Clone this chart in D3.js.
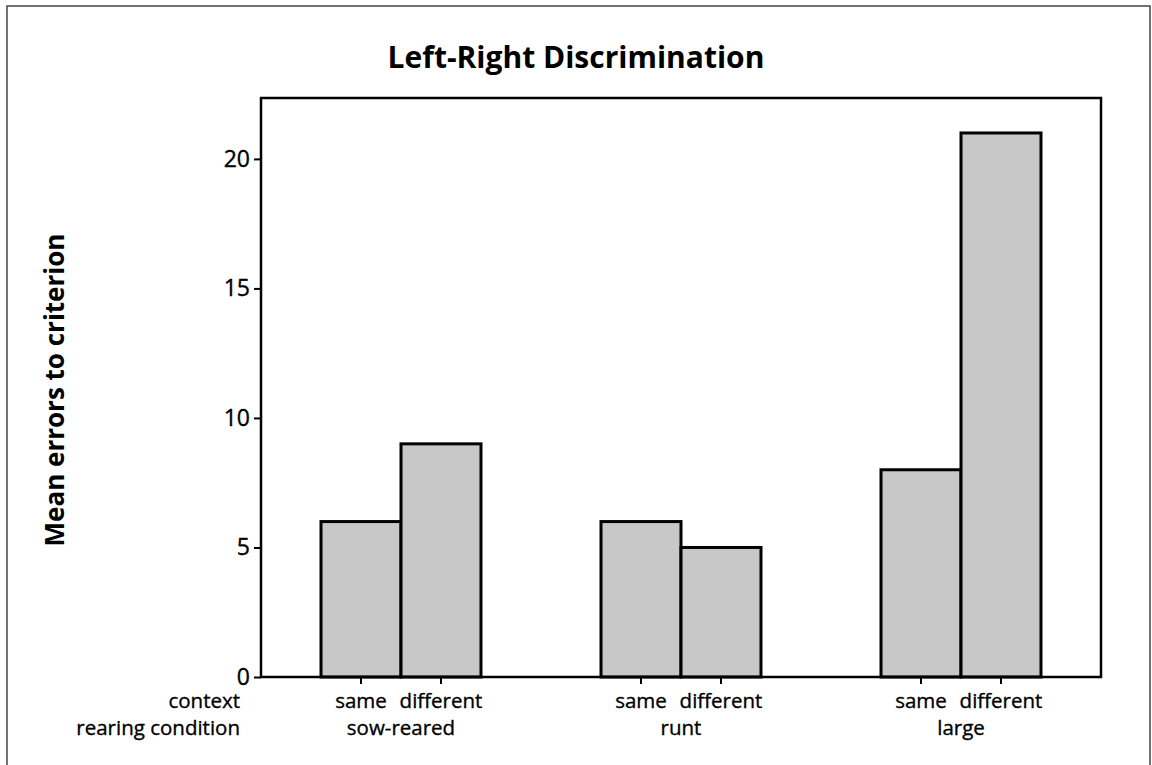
<!DOCTYPE html>
<html>
<head>
<meta charset="utf-8">
<script src="https://cdn.jsdelivr.net/npm/d3@7"></script>
<style>
  body { margin: 0; background: #fff; }
  text { font-family: "Open Sans", "DejaVu Sans", sans-serif; fill: #000; }
  .reg { stroke: #000; stroke-width: 0.35px; }
</style>
</head>
<body>
<div id="chart"></div>
<script>
// --- Data ---
const rearing = ["sow-reared", "runt", "large"];
const contexts = ["same", "different"];
const meanErrors = [
  [6, 9],   // sow-reared
  [6, 5],   // runt
  [8, 21]   // large
];
const yTicks = [0, 5, 10, 15, 20];

// --- SVG Setup ---
const width = 1152;
const height = 765;
const plot = { left: 261, top: 98, right: 1101, bottom: 677 };

const svg = d3.select("#chart")
  .append("svg")
  .attr("width", width)
  .attr("height", height);

// outer frame (cropped at bottom in the original)
svg.append("rect")
  .attr("x", 7).attr("y", 6)
  .attr("width", 1143).attr("height", 780)
  .attr("fill", "none")
  .attr("stroke", "#444")
  .attr("stroke-width", 1.5);

// --- Scales ---
const x0 = d3.scaleBand()
  .domain(rearing)
  .range([plot.left, plot.right])
  .paddingInner(0.4286)
  .paddingOuter(0.2143);

const x1 = d3.scaleBand()
  .domain(contexts)
  .range([0, x0.bandwidth()]);

const y = d3.scaleLinear()
  .domain([0, 22.35])
  .range([plot.bottom, plot.top]);

// --- Bars ---
const groups = svg.selectAll(".group")
  .data(rearing)
  .enter()
  .append("g")
  .attr("class", "group")
  .attr("transform", d => `translate(${x0(d)},0)`);

groups.selectAll("rect")
  .data((d, i) => contexts.map((c, j) => ({ context: c, value: meanErrors[i][j] })))
  .enter()
  .append("rect")
  .attr("x", d => x1(d.context))
  .attr("y", d => y(d.value))
  .attr("width", x1.bandwidth())
  .attr("height", d => y(0) - y(d.value))
  .attr("fill", "#c8c8c8")
  .attr("stroke", "#000")
  .attr("stroke-width", 3);

// --- Plot frame ---
svg.append("rect")
  .attr("x", plot.left).attr("y", plot.top)
  .attr("width", plot.right - plot.left)
  .attr("height", plot.bottom - plot.top)
  .attr("fill", "none")
  .attr("stroke", "#000")
  .attr("stroke-width", 2.5);

// --- Y axis ---
const yAxis = svg.append("g")
  .attr("transform", `translate(${plot.left},0)`)
  .call(d3.axisLeft(y).tickValues(yTicks).tickSize(7).tickPadding(4));
yAxis.select(".domain").remove();
yAxis.selectAll("line").attr("stroke", "#000").attr("stroke-width", 2);
yAxis.selectAll("text")
  .attr("class", "reg")
  .attr("font-size", "23px")
  .attr("font-family", "'Open Sans', sans-serif")
  .attr("fill", "#000");

// --- X axis ticks (at bar centers) ---
const xTicks = [];
rearing.forEach(r => contexts.forEach(c => {
  xTicks.push({ r, c, x: x0(r) + x1(c) + x1.bandwidth() / 2 });
}));

svg.selectAll(".xtick")
  .data(xTicks)
  .enter()
  .append("line")
  .attr("x1", d => d.x).attr("x2", d => d.x)
  .attr("y1", plot.bottom).attr("y2", plot.bottom + 7)
  .attr("stroke", "#000")
  .attr("stroke-width", 2);

svg.selectAll(".ctxlabel")
  .data(xTicks)
  .enter()
  .append("text")
  .attr("class", "reg")
  .attr("x", d => d.x)
  .attr("y", 708)
  .attr("text-anchor", "middle")
  .attr("font-size", "20.5px")
  .text(d => d.c);

svg.selectAll(".rearlabel")
  .data(rearing)
  .enter()
  .append("text")
  .attr("class", "reg")
  .attr("x", d => x0(d) + x0.bandwidth() / 2)
  .attr("y", 735)
  .attr("text-anchor", "middle")
  .attr("font-size", "20.5px")
  .text(d => d);

svg.append("text")
  .attr("class", "reg")
  .attr("x", 240).attr("y", 708)
  .attr("text-anchor", "end")
  .attr("font-size", "20.5px")
  .text("context");

svg.append("text")
  .attr("class", "reg")
  .attr("x", 240).attr("y", 735)
  .attr("text-anchor", "end")
  .attr("font-size", "20.5px")
  .text("rearing condition");

// --- Title and axis label ---
svg.append("text")
  .attr("x", 576).attr("y", 68)
  .attr("text-anchor", "middle")
  .attr("font-size", "30px")
  .attr("font-weight", "bold")
  .text("Left-Right Discrimination");

svg.append("text")
  .attr("transform", "translate(64,390) rotate(-90)")
  .attr("text-anchor", "middle")
  .attr("font-size", "26px")
  .attr("font-weight", "bold")
  .text("Mean errors to criterion");
</script>
</body>
</html>
